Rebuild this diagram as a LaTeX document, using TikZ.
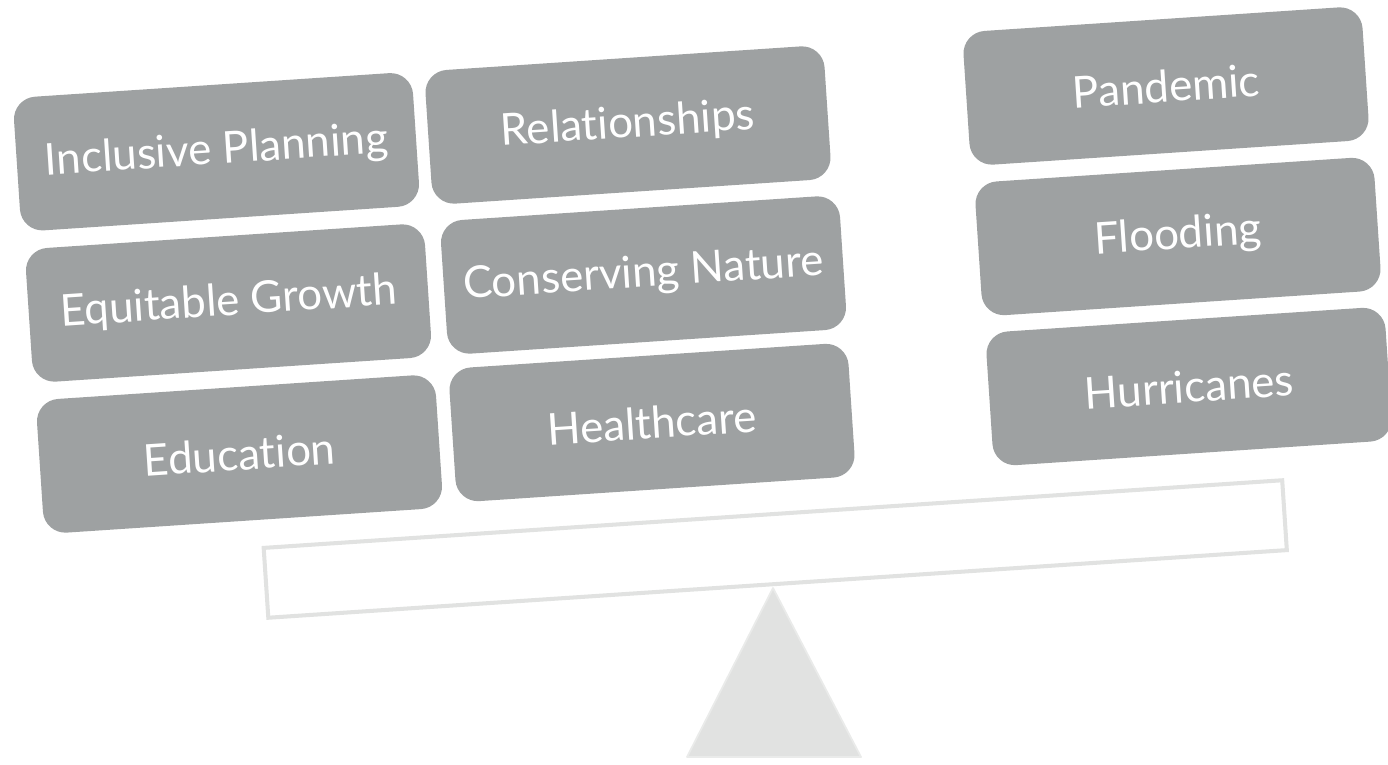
\documentclass[tikz,border=0pt]{standalone}
\usepackage{fontspec}
\setmainfont{Lato}[Ligatures=NoCommon]

\definecolor{boxgray}{RGB}{158,161,162}
\definecolor{beamgray}{RGB}{225,226,225}

\begin{document}
\begin{tikzpicture}[x=0.02cm,y=-0.02cm,
    box/.style={fill=boxgray,text=white,rounded corners=0.45cm,minimum width=8cm,minimum height=2.68cm,rotate=3.8,font=\fontsize{25}{29}\selectfont},
    beam/.style={draw=beamgray,line width=2.3pt,minimum width=20.42cm,minimum height=1.4cm,rotate=3.8},
    fulcrum/.style={fill=beamgray,draw=beamgray!70!white,line width=1pt,line join=round}]
    \useasboundingbox (0,0) rectangle (1388,764);
    \node[box] (inc) at (216.5,151.75) {Inclusive Planning};
    \node[box] (rel) at (628,125) {Relationships};
    \node[box] (equ) at (228.5,303) {Equitable Growth};
    \node[box] (con) at (643.5,275) {Conserving Nature};
    \node[box] (edu) at (239.5,454) {Education};
    \node[box] (hea) at (652,422.5) {Healthcare};
    \node[box] (pan) at (1166,86) {Pandemic};
    \node[box] (flo) at (1178,236.5) {Flooding};
    \node[box] (hur) at (1189,386.5) {Hurricanes};
    \node[beam] (plank) at (775.25,549) {};
    \coordinate (tip) at (773,588);
    \draw[fulcrum] (tip) -- ++(-86,169) -- ++(174,0) -- cycle;
\end{tikzpicture}
\end{document}
